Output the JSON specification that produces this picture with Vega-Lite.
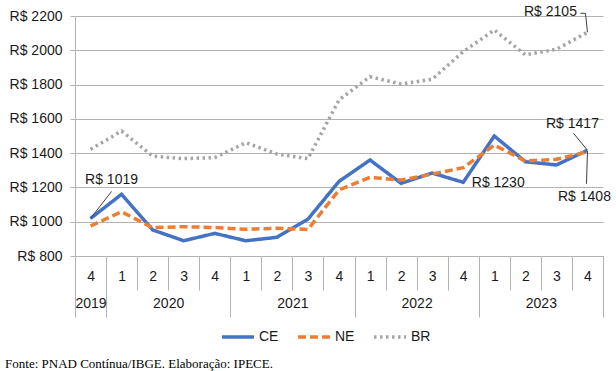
{
  "$schema": "https://vega.github.io/schema/vega-lite/v6.json",
  "width": 528,
  "height": 240,
  "padding": {"left": 5, "top": 5, "right": 6, "bottom": 0},
  "config": {
    "view": {"stroke": null},
    "font": "Liberation Sans",
    "axis": {"labelFont": "Liberation Sans", "labelFontSize": 14, "labelColor": "#1a1a1a"},
    "legend": {"orient": "none", "legendX": 145, "legendY": 303, "direction": "horizontal", "symbolType": "stroke", "symbolSize": 1024, "symbolStrokeWidth": 3.5, "labelFont": "Liberation Sans", "labelFontSize": 14, "labelColor": "#1a1a1a", "labelOffset": 3, "columnPadding": 12},
    "text": {"font": "Liberation Sans", "fontSize": 14, "color": "#1a1a1a"}
  },
  "title": {"text": "Fonte: PNAD Contínua/IBGE. Elaboração: IPECE.", "orient": "bottom", "anchor": "start", "frame": "bounds", "font": "Liberation Serif", "fontSize": 13, "fontWeight": "normal", "color": "#000000", "offset": 14, "dx": -4},
  "data": {"values": [
    {"p": "2019-4", "serie": "CE", "v": 1019}, {"p": "2020-1", "serie": "CE", "v": 1160}, {"p": "2020-2", "serie": "CE", "v": 952}, {"p": "2020-3", "serie": "CE", "v": 889}, {"p": "2020-4", "serie": "CE", "v": 932},
    {"p": "2021-1", "serie": "CE", "v": 889}, {"p": "2021-2", "serie": "CE", "v": 909}, {"p": "2021-3", "serie": "CE", "v": 1015}, {"p": "2021-4", "serie": "CE", "v": 1235},
    {"p": "2022-1", "serie": "CE", "v": 1360}, {"p": "2022-2", "serie": "CE", "v": 1224}, {"p": "2022-3", "serie": "CE", "v": 1284}, {"p": "2022-4", "serie": "CE", "v": 1230},
    {"p": "2023-1", "serie": "CE", "v": 1500}, {"p": "2023-2", "serie": "CE", "v": 1350}, {"p": "2023-3", "serie": "CE", "v": 1331}, {"p": "2023-4", "serie": "CE", "v": 1417},
    {"p": "2019-4", "serie": "NE", "v": 975}, {"p": "2020-1", "serie": "NE", "v": 1058}, {"p": "2020-2", "serie": "NE", "v": 965}, {"p": "2020-3", "serie": "NE", "v": 971}, {"p": "2020-4", "serie": "NE", "v": 966},
    {"p": "2021-1", "serie": "NE", "v": 956}, {"p": "2021-2", "serie": "NE", "v": 962}, {"p": "2021-3", "serie": "NE", "v": 955}, {"p": "2021-4", "serie": "NE", "v": 1185},
    {"p": "2022-1", "serie": "NE", "v": 1259}, {"p": "2022-2", "serie": "NE", "v": 1243}, {"p": "2022-3", "serie": "NE", "v": 1278}, {"p": "2022-4", "serie": "NE", "v": 1315},
    {"p": "2023-1", "serie": "NE", "v": 1447}, {"p": "2023-2", "serie": "NE", "v": 1354}, {"p": "2023-3", "serie": "NE", "v": 1364}, {"p": "2023-4", "serie": "NE", "v": 1408},
    {"p": "2019-4", "serie": "BR", "v": 1422}, {"p": "2020-1", "serie": "BR", "v": 1529}, {"p": "2020-2", "serie": "BR", "v": 1383}, {"p": "2020-3", "serie": "BR", "v": 1368}, {"p": "2020-4", "serie": "BR", "v": 1374},
    {"p": "2021-1", "serie": "BR", "v": 1461}, {"p": "2021-2", "serie": "BR", "v": 1395}, {"p": "2021-3", "serie": "BR", "v": 1368}, {"p": "2021-4", "serie": "BR", "v": 1710},
    {"p": "2022-1", "serie": "BR", "v": 1846}, {"p": "2022-2", "serie": "BR", "v": 1803}, {"p": "2022-3", "serie": "BR", "v": 1831}, {"p": "2022-4", "serie": "BR", "v": 1992},
    {"p": "2023-1", "serie": "BR", "v": 2118}, {"p": "2023-2", "serie": "BR", "v": 1973}, {"p": "2023-3", "serie": "BR", "v": 2006}, {"p": "2023-4", "serie": "BR", "v": 2105}
  ]},
  "resolve": {"axis": {"x": "independent", "y": "independent"}},
  "layer": [
    {
      "mark": {"type": "line", "strokeWidth": 3.5},
      "encoding": {
        "x": {"field": "p", "type": "ordinal",
          "scale": {"domain": ["2019-4","2020-1","2020-2","2020-3","2020-4","2021-1","2021-2","2021-3","2021-4","2022-1","2022-2","2022-3","2022-4","2023-1","2023-2","2023-3","2023-4"], "paddingInner": 0, "paddingOuter": 0},
          "axis": {"title": null, "orient": "bottom", "tickBand": "extent", "tickSize": 34, "tickColor": "#b3b3b3", "domainColor": "#b3b3b3", "labelExpr": "isString(datum.value) ? substring(datum.value, 5) : ''", "labelPadding": -21, "labelAngle": 0, "labelOverlap": false, "grid": false}},
        "y": {"field": "v", "type": "quantitative",
          "scale": {"domain": [800, 2200], "nice": false, "zero": false},
          "axis": {"title": null, "values": [800, 1000, 1200, 1400, 1600, 1800, 2000, 2200], "labelExpr": "'R$ ' + datum.value", "grid": true, "gridColor": "#b3b3b3", "domainColor": "#b3b3b3", "tickColor": "#b3b3b3", "tickSize": 5, "labelPadding": 8}},
        "color": {"field": "serie", "type": "nominal", "scale": {"domain": ["CE", "NE", "BR"], "range": ["#4472C4", "#ED7D31", "#A5A5A5"]}, "legend": {"title": null}},
        "strokeDash": {"field": "serie", "type": "nominal", "scale": {"domain": ["CE", "NE", "BR"], "range": [[1, 0], [8, 4], [2.5, 3.5]]}, "legend": {"title": null}}
      }
    },
    {
      "transform": [{"filter": "datum.p == '2019-4' && datum.serie == 'CE'"}, {"calculate": "'R$ ' + datum.v", "as": "label"}],
      "mark": {"type": "text", "dx": 21, "dy": -38},
      "encoding": {
        "x": {"field": "p", "type": "ordinal",
          "axis": {"title": null, "orient": "bottom", "tickBand": "extent", "tickSize": 61, "tickColor": "#b3b3b3",
            "tickOpacity": {"condition": {"test": "!isString(datum.value) || indexof(datum.value, '-4') > 0", "value": 1}, "value": 0},
            "domain": false,
            "labelExpr": "!isString(datum.value) ? '' : (datum.value == '2019-4' ? '2019' : (indexof(datum.value, '-2') > 0 ? substring(datum.value, 0, 4) : ''))",
            "labelOffset": {"condition": {"test": "datum.value == '2019-4'", "value": 0}, "value": 15.5},
            "labelPadding": -21, "labelAngle": 0, "labelOverlap": false, "grid": false}},
        "y": {"field": "v", "type": "quantitative", "axis": null},
        "text": {"field": "label", "type": "nominal"}
      }
    },
    {
      "transform": [{"filter": "datum.p == '2019-4' && datum.serie == 'CE'"}],
      "mark": {"type": "rule", "color": "#404040", "strokeWidth": 1, "x2Offset": 21, "y2Offset": -27},
      "encoding": {
        "x": {"field": "p", "type": "ordinal", "axis": null}, "x2": {"field": "p"},
        "y": {"field": "v", "type": "quantitative", "axis": null}, "y2": {"field": "v"}
      }
    },
    {
      "transform": [{"filter": "datum.p == '2022-4' && datum.serie == 'CE'"}, {"calculate": "'R$ ' + datum.v", "as": "label"}],
      "mark": {"type": "text", "dx": 35, "dy": 1},
      "encoding": {
        "x": {"field": "p", "type": "ordinal", "axis": null},
        "y": {"field": "v", "type": "quantitative", "axis": null},
        "text": {"field": "label", "type": "nominal"}
      }
    },
    {
      "transform": [{"filter": "datum.p == '2023-4' && datum.serie == 'CE'"}, {"calculate": "'R$ ' + datum.v", "as": "label"}],
      "mark": {"type": "text", "dx": -15, "dy": -26},
      "encoding": {
        "x": {"field": "p", "type": "ordinal", "axis": null},
        "y": {"field": "v", "type": "quantitative", "axis": null},
        "text": {"field": "label", "type": "nominal"}
      }
    },
    {
      "transform": [{"filter": "datum.p == '2023-4' && datum.serie == 'CE'"}],
      "mark": {"type": "rule", "color": "#404040", "strokeWidth": 1, "x2Offset": -14, "y2Offset": -17},
      "encoding": {
        "x": {"field": "p", "type": "ordinal", "axis": null}, "x2": {"field": "p"},
        "y": {"field": "v", "type": "quantitative", "axis": null}, "y2": {"field": "v"}
      }
    },
    {
      "transform": [{"filter": "datum.p == '2023-4' && datum.serie == 'NE'"}, {"calculate": "'R$ ' + datum.v", "as": "label"}],
      "mark": {"type": "text", "dx": -3, "dy": 45},
      "encoding": {
        "x": {"field": "p", "type": "ordinal", "axis": null},
        "y": {"field": "v", "type": "quantitative", "axis": null},
        "text": {"field": "label", "type": "nominal"}
      }
    },
    {
      "transform": [{"filter": "datum.p == '2023-4' && datum.serie == 'NE'"}],
      "mark": {"type": "rule", "color": "#404040", "strokeWidth": 1, "x2Offset": -1, "y2Offset": 32},
      "encoding": {
        "x": {"field": "p", "type": "ordinal", "axis": null}, "x2": {"field": "p"},
        "y": {"field": "v", "type": "quantitative", "axis": null}, "y2": {"field": "v"}
      }
    },
    {
      "transform": [{"filter": "datum.p == '2023-4' && datum.serie == 'BR'"}, {"calculate": "'R$ ' + datum.v", "as": "label"}],
      "mark": {"type": "text", "dx": -37, "dy": -20},
      "encoding": {
        "x": {"field": "p", "type": "ordinal", "axis": null},
        "y": {"field": "v", "type": "quantitative", "axis": null},
        "text": {"field": "label", "type": "nominal"}
      }
    },
    {
      "transform": [{"filter": "datum.p == '2023-4' && datum.serie == 'BR'"}],
      "mark": {"type": "rule", "color": "#404040", "strokeWidth": 1, "x2Offset": -2, "y2Offset": -19},
      "encoding": {
        "x": {"field": "p", "type": "ordinal", "axis": null}, "x2": {"field": "p"},
        "y": {"field": "v", "type": "quantitative", "axis": null}, "y2": {"field": "v"}
      }
    },
    {
      "transform": [{"filter": "datum.p == '2023-4' && datum.serie == 'BR'"}],
      "mark": {"type": "rule", "color": "#404040", "strokeWidth": 1, "xOffset": -2, "yOffset": -19, "x2Offset": -7, "y2Offset": -19},
      "encoding": {
        "x": {"field": "p", "type": "ordinal", "axis": null}, "x2": {"field": "p"},
        "y": {"field": "v", "type": "quantitative", "axis": null}, "y2": {"field": "v"}
      }
    }
  ]
}
